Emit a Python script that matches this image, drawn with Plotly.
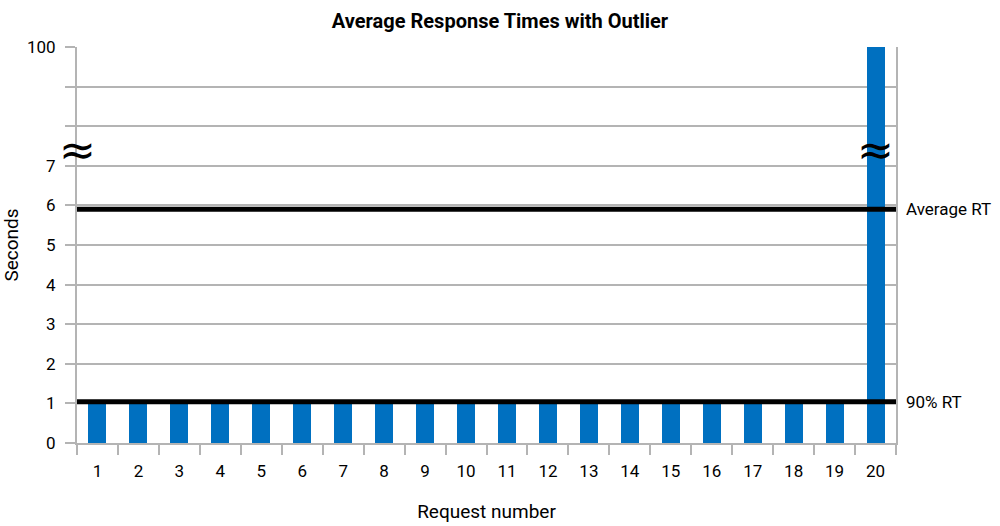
import plotly.graph_objects as go

requests = list(range(1, 21))
response_seconds = [1] * 19 + [100]
average_rt = 5.9
p90_rt = 1.04
y_tick_labels = ["0", "1", "2", "3", "4", "5", "6", "7", "", "", "100"]

BREAK_LOW = 7      # last value drawn to scale
BREAK_TOP = 100    # value shown at top of broken axis
TOP_POS = 10       # axis position of top value


def to_axis(v):
    if v <= BREAK_LOW:
        return v
    return BREAK_LOW + (v - BREAK_LOW) / (BREAK_TOP - BREAK_LOW) * (TOP_POS - BREAK_LOW)


FONT = "Roboto, Liberation Sans, sans-serif"
GRID = "#b4b4b4"
BLUE = "#0070c0"

fig = go.Figure()
fig.add_trace(go.Bar(
    x=requests,
    y=[to_axis(v) for v in response_seconds],
    customdata=response_seconds,
    hovertemplate="Request %{x}: %{customdata} s<extra></extra>",
    marker=dict(color=BLUE, line=dict(width=0)),
    width=0.44,
))

for val, label in [(average_rt, "Average RT"), (p90_rt, "90% RT")]:
    fig.add_shape(type="line", xref="paper", x0=0, x1=1, yref="y", y0=val, y1=val,
                  line=dict(color="black", width=5))
    fig.add_annotation(xref="paper", x=1.01, y=val, yref="y", text=label, showarrow=False,
                       xanchor="left", yanchor="middle",
                       font=dict(family=FONT, size=17, color="black"))

# break marks
for xr, xv in [("paper", 0.0), ("x", 20)]:
    fig.add_annotation(xref=xr, x=xv, y=7.4, yref="y", text="≈", showarrow=False,
                       xanchor="center", yanchor="middle",
                       font=dict(family="DejaVu Sans", size=44, color="black"))

fig.update_layout(
    width=1000, height=526,
    margin=dict(l=77, r=104, t=47, b=83, autoexpand=False),
    plot_bgcolor="white", paper_bgcolor="white",
    showlegend=False,
    bargap=0,
    title=dict(text="<b>Average Response Times with Outlier</b>", x=0.5, xanchor="center",
               y=0.96, yanchor="middle", font=dict(family=FONT, size=20, color="black")),
    font=dict(family=FONT, color="black"),
)
fig.update_xaxes(
    range=[0.5, 20.5], tickmode="array", tickvals=requests, ticktext=[str(r) for r in requests],
    ticks="", showgrid=False, zeroline=False, automargin=False,
    showline=True, linecolor=GRID, linewidth=2, mirror=False,
    tickfont=dict(family=FONT, size=17, color="black"), ticklabelstandoff=12,
    minor=dict(tick0=0.5, dtick=1, ticks="outside", ticklen=10, tickwidth=2, tickcolor=GRID, showgrid=False),
    title=dict(text="Request number", font=dict(family=FONT, size=19, color="black"), standoff=24),
)
fig.update_yaxes(
    range=[0, TOP_POS], tickmode="array", tickvals=list(range(0, 11)), ticktext=y_tick_labels,
    ticks="outside", ticklen=10, tickwidth=2, tickcolor=GRID,
    showgrid=True, gridcolor=GRID, gridwidth=2, zeroline=False, automargin=False,
    showline=True, linecolor=GRID, linewidth=2, mirror=True,
    tickfont=dict(family=FONT, size=17, color="black"), ticklabelstandoff=6,
    title=dict(text="Seconds", font=dict(family=FONT, size=19, color="black"), standoff=12),
)

fig.write_html("out.html", config={"displayModeBar": False},
               post_script="document.body.style.margin='0';")
